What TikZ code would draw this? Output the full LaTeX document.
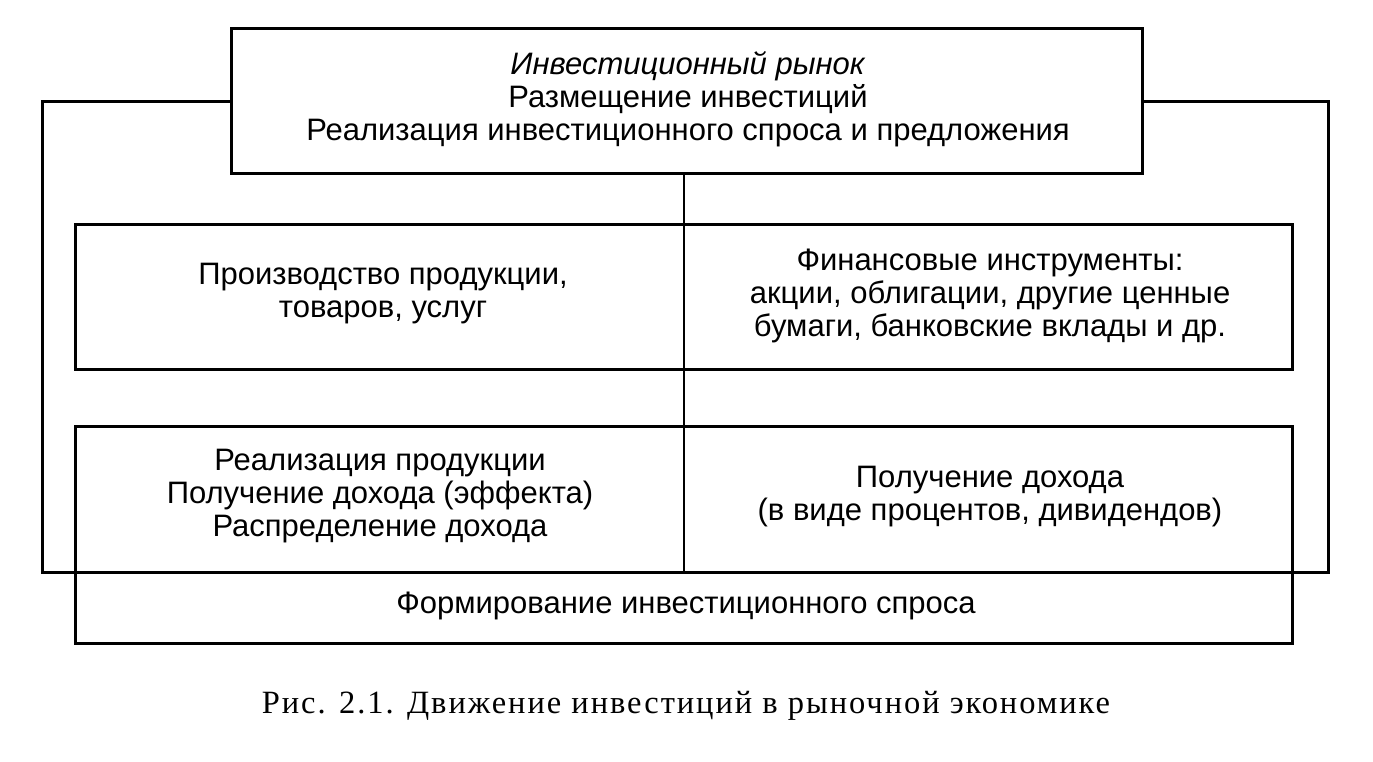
\documentclass[tikz,border=0pt]{standalone}
\usepackage{fontspec}
\setmainfont{Liberation Sans}
\newfontfamily\boxfont{Liberation Sans}
\newfontfamily\capfont[LetterSpace=6]{Liberation Serif}
\begin{document}
\begin{tikzpicture}[x=1pt,y=-1pt,
  frame/.style={draw=black,line width=3pt},
  txt/.style={align=center,font=\boxfont\fontsize{31}{33}\selectfont,inner sep=0pt},
]
\useasboundingbox (0,0) rectangle (1373,761);
% outer frame
\draw[frame] (42,101) rectangle (1328,572);
% boxes
\draw[frame,fill=white] (231,28) rectangle (1142,173);
\draw[frame] (75,224) rectangle (1292,369);
\draw[frame] (75,426) rectangle (1292,572);
\draw[frame] (75,572) rectangle (1292,643);
\coordinate (vtop) at (684,173);
\coordinate (vbot) at (684,572);
\draw[frame,line width=2.6pt] (vtop) -- (vbot);
% texts
\node[txt] (market) at (688,99) {\textit{Инвестиционный рынок}\\Размещение инвестиций\\Реализация инвестиционного спроса и предложения};
\node[txt] (prod) at (383,294) {Производство продукции,\\товаров, услуг};
\node[txt] (fin) at (990,296) {Финансовые инструменты:\\акции, облигации, другие ценные\\бумаги, банковские вклады и др.};
\node[txt] (real) at (380,496) {Реализация продукции\\Получение дохода (эффекта)\\Распределение дохода};
\node[txt] (income) at (990,497) {Получение дохода\\(в виде процентов, дивидендов)};
\node[txt] (demand) at (686,606) {Формирование инвестиционного спроса};
\node[inner sep=0pt,font=\capfont\fontsize{32.5}{33}\selectfont] (cap) at (686,706) {Рис. 2.1. Движение инвестиций в рыночной экономике};
\end{tikzpicture}
\end{document}
